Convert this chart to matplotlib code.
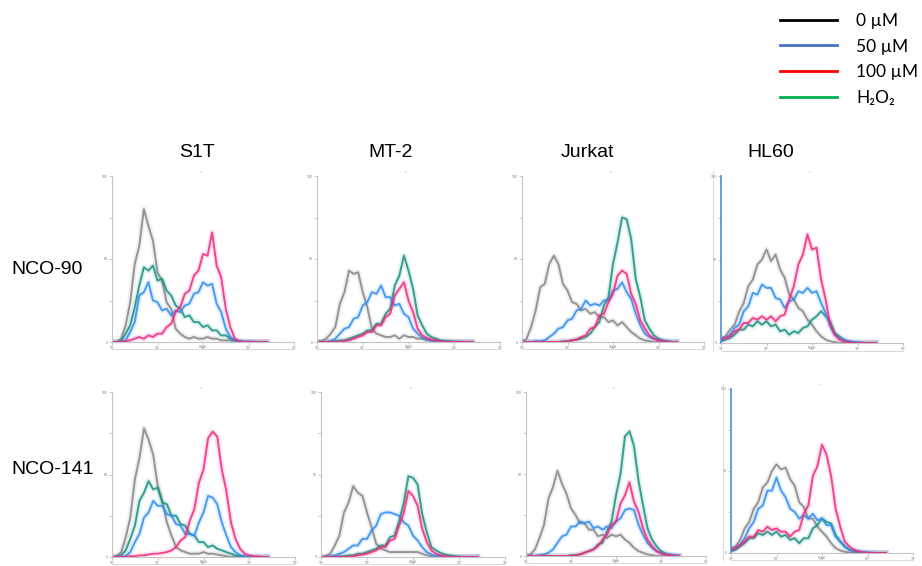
import numpy as np
import matplotlib
matplotlib.use('Agg')
import matplotlib.pyplot as plt
from matplotlib.lines import Line2D

plt.rcParams['font.family'] = ['Liberation Sans', 'DejaVu Sans']

# channel positions in decades of fluorescence (0 .. 3.4)
channels = np.arange(35) * 0.1

cell_lines = ['S1T', 'MT-2', 'Jurkat', 'HL60']
compounds = ['NCO-90', 'NCO-141']
legend_labels = ['0 µM', '50 µM', '100 µM', 'H₂O₂']

# ---- NCO-90 ----
s1t_90_gray = [0, 0, 2, 10, 24, 47, 58, 80, 70, 61, 42, 37, 24, 20, 8, 5, 3, 2, 3, 2, 2, 3, 2, 2, 1, 1, 1, 0.5, 0, 0, 0, 0, 0, 0, 0]
s1t_90_teal = [0, 0, 0.5, 5, 10, 21, 34, 45, 43, 46, 37, 38, 31, 28, 22, 20, 15, 16, 12, 12, 9, 10, 7, 7, 4, 4, 2, 1, 0.5, 0, 0, 0, 0, 0, 0]
s1t_90_blue = [0, 0, 0, 1, 6, 12, 28, 30, 36, 25, 24, 19, 20, 16, 19, 18, 22, 23, 29, 30, 36, 34, 35, 23, 18, 8, 3, 1, 0.5, 0.3, 0.3, 0.2, 0, 0, 0]
s1t_90_pink = [0, 0, 0, 0.5, 1, 2, 3, 2, 4, 3, 5, 5, 9, 11, 18, 21, 29, 31, 40, 43, 53, 52, 66, 46, 39, 20, 9, 2, 0.5, 0, 0, 0, 0, 0, 0]

mt2_90_gray = [0, 0.5, 2, 5, 9, 23, 30, 43, 41, 42, 30, 21, 8, 5, 4, 3, 3, 4, 2, 4, 3, 3, 2, 2, 1, 1, 0.5, 0, 0, 0, 0, 0, 0, 0, 0]
mt2_90_teal = [0, 0, 0, 0.5, 0.5, 1, 1, 2, 3, 4, 5, 7, 7, 11, 11, 17, 20, 34, 40, 52, 43, 32, 16, 10, 5, 3, 2, 1, 0.7, 0.5, 0.3, 0.2, 0, 0, 0]
mt2_90_blue = [0, 0, 0, 0.5, 2, 5, 8, 9, 14, 15, 22, 24, 30, 29, 34, 27, 27, 22, 23, 17, 15, 8, 5, 2.5, 1.5, 0.7, 0.3, 0, 0, 0, 0, 0, 0, 0, 0]
mt2_90_pink = [0, 0, 0, 0, 0, 0, 0.5, 1, 2, 3, 4, 6, 6, 10, 10, 15, 17, 28, 32, 36, 25, 18, 8, 4, 2.5, 1.5, 1, 0.5, 0, 0, 0, 0, 0, 0, 0]

jurkat_90_gray = [0, 2, 9, 19, 33, 35, 47, 52, 47, 35, 31, 24, 23, 19, 20, 17, 18, 15, 15, 12, 13, 10, 12, 9, 6, 4, 2, 1, 0.5, 0, 0, 0, 0, 0, 0]
jurkat_90_teal = [0, 0, 0, 0, 0, 0, 0, 0, 0, 0.5, 0.5, 1, 1.5, 2, 3, 5, 9, 12, 22, 27, 47, 60, 75, 74, 62, 38, 27, 13, 8, 4, 2, 1, 0.5, 0, 0]
jurkat_90_blue = [0, 0, 0, 0.5, 0.5, 1, 3, 5, 8, 9, 13, 14, 19, 20, 25, 22, 23, 22, 25, 25, 31, 32, 36, 30, 26, 17, 10, 5, 3, 2, 1, 0.5, 0.2, 0, 0]
jurkat_90_pink = [0, 0, 0, 0, 0, 0, 0, 0, 0, 0, 0.5, 1, 1.5, 3, 4, 8, 9, 16, 17, 24, 29, 40, 43, 41, 29, 23, 13, 8, 4, 2, 1, 0.5, 0, 0, 0]

hl60_90_gray = [3, 4, 8, 11, 19, 24, 34, 38, 47, 50, 56, 49, 53, 44, 39, 29, 26, 21, 19, 14, 11, 7, 4, 2, 1, 0.5, 0, 0, 0, 0, 0, 0, 0, 0, 0]
hl60_90_teal = [1, 2, 3, 5, 8, 8, 11, 10, 13, 11, 13, 10, 11, 7, 8, 5, 7, 6, 9, 10, 14, 16, 19, 16, 13, 6, 4, 2, 1, 0.5, 0, 0, 0, 0, 0]
hl60_90_blue = [2, 3, 5, 9, 11, 19, 22, 30, 29, 35, 33, 33, 27, 26, 21, 25, 26, 31, 30, 33, 30, 31, 24, 18, 10, 5, 3, 2, 1, 0.7, 0.5, 0.3, 0, 0, 0]
hl60_90_pink = [2, 3, 4, 7, 8, 12, 12, 15, 14, 16, 14, 16, 13, 16, 17, 26, 34, 47, 53, 65, 56, 57, 38, 26, 11, 5, 2, 1, 0.5, 0, 0, 0, 0, 0, 0]

# ---- NCO-141 ----
s1t_141_gray = [0, 0.5, 3, 12, 24, 47, 60, 78, 71, 62, 43, 34, 21, 13, 6, 4, 3, 2, 2, 2, 3, 2, 2, 1.5, 1, 0.5, 0, 0, 0, 0, 0, 0, 0, 0, 0]
s1t_141_teal = [0, 0, 1, 4, 11, 19, 34, 39, 46, 41, 42, 33, 32, 25, 25, 20, 19, 14, 13, 9, 9, 6, 7, 5, 4, 3, 2, 1, 0.5, 0, 0, 0, 0, 0, 0]
s1t_141_blue = [0, 0, 0, 0.5, 3, 9, 14, 24, 27, 34, 31, 31, 26, 25, 20, 19, 14, 14, 13, 21, 27, 37, 36, 32, 21, 13, 6, 3, 1, 0.5, 0, 0, 0, 0, 0]
s1t_141_pink = [0, 0, 0, 0, 0.5, 0.5, 1, 1, 1.5, 2, 2, 2.5, 3, 4, 6, 10, 12, 22, 29, 45, 53, 72, 76, 73, 53, 40, 21, 11, 5, 2, 1, 0.5, 0.3, 0, 0]

mt2_141_gray = [0, 0.5, 2, 7, 13, 27, 33, 43, 39, 37, 27, 18, 8, 5, 4, 3, 3, 3, 3, 3, 3, 3, 2, 1, 0.5, 0, 0, 0, 0, 0, 0, 0, 0, 0, 0]
mt2_141_teal = [0, 0, 0, 0, 0.5, 0.5, 1, 1, 2, 2, 3, 4, 5, 7, 7, 12, 13, 22, 33, 49, 48, 44, 26, 15, 6, 4, 2.5, 1.5, 1, 0.5, 0.3, 0, 0, 0, 0]
mt2_141_blue = [0, 0, 0.5, 1, 2, 3, 5, 7, 7, 11, 11, 16, 19, 26, 27, 27, 26, 25, 21, 19, 13, 10, 6, 3, 1.5, 0.8, 0.5, 0, 0, 0, 0, 0, 0, 0, 0]
mt2_141_pink = [0, 0, 0, 0, 0, 0, 0, 0.5, 1, 1.5, 2, 3, 4, 6, 6, 10, 11, 19, 27, 40, 37, 31, 17, 9, 4, 2, 1, 0.5, 0, 0, 0, 0, 0, 0, 0]

jurkat_141_gray = [0, 1, 4, 11, 19, 35, 42, 52, 44, 38, 29, 25, 20, 20, 16, 16, 12, 13, 11, 13, 12, 13, 10, 8, 5, 3, 2, 1, 0.5, 0, 0, 0, 0, 0, 0]
jurkat_141_teal = [0, 0, 0, 0, 0, 0, 0, 0, 0, 0, 0.5, 0.5, 1, 2, 3, 4, 7, 8, 15, 21, 37, 50, 73, 76, 67, 46, 31, 17, 10, 6, 3, 1.5, 0.8, 0.5, 0]
jurkat_141_blue = [0, 0, 0, 0.5, 1, 2, 4, 8, 12, 13, 18, 18, 21, 20, 21, 17, 18, 16, 18, 17, 21, 23, 28, 29, 28, 19, 13, 8, 5, 3, 2, 1, 0.8, 0.5, 0.3]
jurkat_141_pink = [0, 0, 0, 0, 0, 0, 0, 0, 0, 0, 0, 0.5, 1, 2, 3, 4, 6, 10, 13, 19, 21, 32, 37, 45, 33, 27, 17, 10, 6, 3, 1.5, 0.8, 0.4, 0, 0]

hl60_141_gray = [3, 4, 8, 15, 19, 27, 31, 40, 43, 50, 54, 51, 52, 45, 41, 31, 28, 21, 21, 16, 13, 10, 6, 3, 1.5, 0.7, 0.3, 0, 0, 0, 0, 0, 0, 0, 0]
hl60_141_teal = [1, 2, 4, 6, 9, 9, 12, 11, 13, 11, 13, 10, 11, 8, 9, 6, 9, 9, 15, 17, 21, 19, 18, 11, 7, 4, 2, 1, 0.5, 0, 0, 0, 0, 0, 0]
hl60_141_blue = [2, 3, 5, 9, 15, 19, 27, 29, 38, 38, 46, 38, 34, 27, 25, 21, 23, 21, 24, 20, 21, 17, 17, 10, 7, 4, 2, 1.5, 1, 0.7, 0.5, 0.3, 0, 0, 0]
hl60_141_pink = [2, 3, 5, 7, 10, 10, 14, 13, 16, 14, 15, 13, 13, 10, 13, 14, 24, 29, 47, 53, 66, 60, 47, 27, 16, 7, 4, 2, 1, 0.5, 0, 0, 0, 0, 0]

panels = [
    [(s1t_90_gray, s1t_90_teal, s1t_90_blue, s1t_90_pink),
     (mt2_90_gray, mt2_90_teal, mt2_90_blue, mt2_90_pink),
     (jurkat_90_gray, jurkat_90_teal, jurkat_90_blue, jurkat_90_pink),
     (hl60_90_gray, hl60_90_teal, hl60_90_blue, hl60_90_pink)],
    [(s1t_141_gray, s1t_141_teal, s1t_141_blue, s1t_141_pink),
     (mt2_141_gray, mt2_141_teal, mt2_141_blue, mt2_141_pink),
     (jurkat_141_gray, jurkat_141_teal, jurkat_141_blue, jurkat_141_pink),
     (hl60_141_gray, hl60_141_teal, hl60_141_blue, hl60_141_pink)],
]

curve_colors = ['#858585', '#16907f', '#2d8cf0', '#f0287f']
legend_colors = ['#000000', '#4472c4', '#ff0000', '#00b050']

W, H = 922, 566
# panel boxes in pixels: left, top, right, bottom
boxes = [
    [(112, 176, 294, 342), (317, 176, 500, 342), (522, 176, 704, 342), (721, 176, 903, 343)],
    [(112, 392, 295, 557), (321, 392, 505, 557), (526, 392, 706, 556), (731, 389, 913, 553)],
]

fig = plt.figure(figsize=(W / 100, H / 100), dpi=100)

for r in range(2):
    for c in range(4):
        l, t, rt, b = boxes[r][c]
        ax = fig.add_axes([l / W, 1 - b / H, (rt - l) / W, (b - t) / H])
        for ys, col in zip(panels[r][c], curve_colors):
            ax.plot(channels, ys, color=col, lw=4, alpha=0.13)
            ax.plot(channels, ys, color=col, lw=1.4, alpha=0.85)
        ax.set_xlim(0, 4)
        ax.set_ylim(0, 100)
        ax.set_xticks([0, 1, 2, 3, 4])
        ax.set_xticklabels(['10⁰', '10¹', '10²', '10³', '10⁴'])
        ax.set_yticks([0, 25, 50, 75, 100])
        ax.set_yticklabels(['0', '', '50', '', '100'])
        ax.tick_params(length=2, width=0.5, color='#b0b0b0', labelsize=2.5,
                       labelcolor='#808080', pad=1)
        ax.text(0.5, -0.028, 'FL1-H', transform=ax.transAxes, fontsize=2,
                color='#808080', ha='center', va='center')
        for s in ['top', 'right']:
            ax.spines[s].set_visible(False)
        for s in ['left', 'bottom']:
            ax.spines[s].set_color('#c4c4c4')
            ax.spines[s].set_linewidth(0.8)
        ax.text(1.95, 100.5, '*', color='#f06a8a', fontsize=3, ha='center', va='bottom')
        # frame line of the exported plot
        ax.plot([0, 1], [-0.045, -0.045], transform=ax.transAxes, clip_on=False,
                color='#d2d2d2', lw=0.6)
        if c == 3:
            ax.spines['left'].set_color('#4a8fd6')
            ax.spines['left'].set_linewidth(1.2)
            ax.plot([-0.045, -0.045], [-0.045, 1.03], transform=ax.transAxes,
                    clip_on=False, color='#d2d2d2', lw=0.6)

title_x = [197, 391, 587, 771]
for name, x in zip(cell_lines, title_x):
    fig.text(x / W, 1 - 153 / H, name, ha='center', va='center', fontsize=14)

row_y = [269, 470]
for name, y in zip(compounds, row_y):
    fig.text(11 / W, 1 - y / H, name, ha='left', va='center', fontsize=14)

handles = [Line2D([], [], color=c, lw=2) for c in legend_colors]
fig.legend(handles, legend_labels, loc='upper left', bbox_to_anchor=(780 / W, 1 - 13 / H),
           frameon=False, prop={'family': ['Lato', 'DejaVu Sans'], 'size': 12.5},
           handlelength=3.3, handletextpad=1.1,
           labelspacing=0.55, borderpad=0, borderaxespad=0)

fig.savefig('out.png', dpi=100)
